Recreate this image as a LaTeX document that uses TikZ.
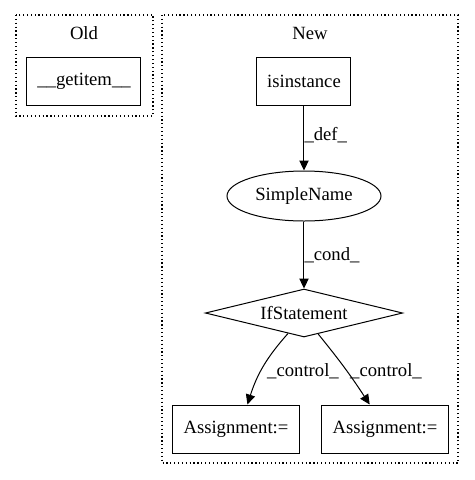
\documentclass[tikz,border=0pt]{standalone}
\usepackage{fontspec}
\setmainfont{Liberation Serif}
\usetikzlibrary{arrows.meta,shapes.geometric}
\tikzset{
  stmt/.style = {draw, line width = .75pt, minimum width = 70.5pt, minimum height = 36pt, inner sep = 0pt},
  flow/.style = {draw, line width = .75pt, -{Triangle[length = 7.5pt, width = 7pt]}},
  tag/.style = {font = \fontsize{14}{16}\selectfont, inner sep = 0pt},
  group/.style = {draw, dotted, line width = .9pt}
}
\begin{document}
\begin{tikzpicture}[x = 0.75pt, y = -0.75pt, font = \fontsize{14}{16}\selectfont]
  \useasboundingbox (0,0) rectangle (475,480);
  % clusters
  \draw [group] (16,15) rectangle (153,116);
  \node [tag] (old) at (84,33) {Old};
  \draw [group] (162,15) rectangle (458,463);
  \node [tag] (new) at (310,33) {New};
  % old side
  \node [stmt, minimum width = 85.5pt] (getitem) at (84,81) {\_\_getitem\_\_};
  % new side
  \node [stmt] (isinst) at (304,81) {isinstance};
  \node [draw, ellipse, line width = .75pt, minimum width = 115.5pt, minimum height = 37.5pt, inner sep = 0pt]
    (simple) at (304,196) {SimpleName};
  \node [draw, diamond, aspect = 4.1, line width = .75pt, minimum width = 148pt, minimum height = 36pt, inner sep = 0pt]
    (ifst) at (304,313) {IfStatement};
  \node [stmt, minimum width = 95pt] (assignA) at (236,429) {Assignment:=};
  \node [stmt, minimum width = 95pt] (assignB) at (385,429) {Assignment:=};
  % edges
  \draw [flow] (isinst) -- (simple) node [tag, pos = .45, right = 0pt] {\_def\_};
  \draw [flow] (simple) -- (ifst) node [tag, pos = .5, right = 0pt] {\_cond\_};
  \draw [flow] (ifst.232) to [bend right = 12] (assignA.65);
  \node [tag] (ctlA) at (303,371) {\_control\_};
  \draw [flow] (ifst.304) to [bend left = 3] (assignB.122);
  \node [tag] (ctlB) at (386,371) {\_control\_};
\end{tikzpicture}
\end{document}
